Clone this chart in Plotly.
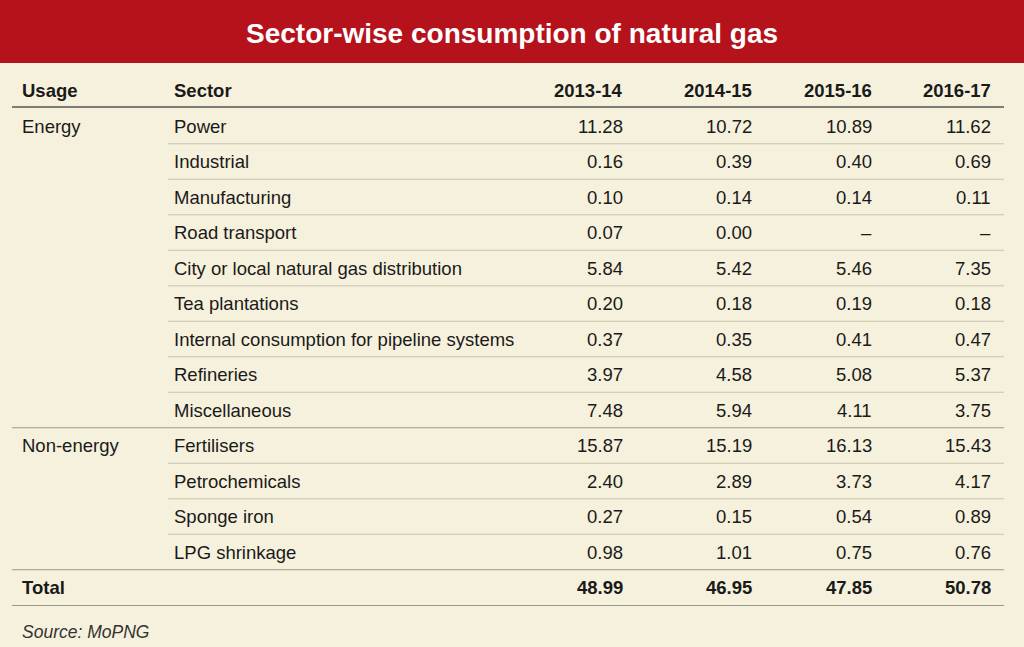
import plotly.graph_objects as go

title = "Sector-wise consumption of natural gas"
years = ["2013-14", "2014-15", "2015-16", "2016-17"]
usage = ["Energy", "", "", "", "", "", "", "", "", "Non-energy", "", "", ""]
sectors = ["Power", "Industrial", "Manufacturing", "Road transport",
           "City or local natural gas distribution", "Tea plantations",
           "Internal consumption for pipeline systems", "Refineries",
           "Miscellaneous", "Fertilisers", "Petrochemicals", "Sponge iron",
           "LPG shrinkage"]
v1314 = ["11.28", "0.16", "0.10", "0.07", "5.84", "0.20", "0.37", "3.97", "7.48", "15.87", "2.40", "0.27", "0.98"]
v1415 = ["10.72", "0.39", "0.14", "0.00", "5.42", "0.18", "0.35", "4.58", "5.94", "15.19", "2.89", "0.15", "1.01"]
v1516 = ["10.89", "0.40", "0.14", "–", "5.46", "0.19", "0.41", "5.08", "4.11", "16.13", "3.73", "0.54", "0.75"]
v1617 = ["11.62", "0.69", "0.11", "–", "7.35", "0.18", "0.47", "5.37", "3.75", "15.43", "4.17", "0.89", "0.76"]
totals = ["48.99", "46.95", "47.85", "50.78"]
source = "Source: MoPNG"

cols = [v1314, v1415, v1516, v1617]
col_x = [625, 754, 874, 993]
x_usage, x_sector = 20, 172
y_head, y0, dy = 90, 126, 35.5
y_total = y0 + dy * len(sectors)

FONT = "Liberation Sans, Arial, sans-serif"
fig = go.Figure()
fig.add_trace(go.Scatter(x=[0, 1024], y=[0, 647], mode="markers", marker=dict(opacity=0), hoverinfo="skip"))

ann = []
def txt(x, y, s, anchor="left", bold=False, italic=False, size=18.5, color="#1a1a1a"):
    if bold:
        s = "<b>" + s + "</b>"
    if italic:
        s = "<i>" + s + "</i>"
    ann.append(dict(x=x, y=y, text=s, xanchor=anchor, yanchor="middle", showarrow=False,
                    font=dict(family=FONT, size=size, color=color)))

txt(x_usage, y_head, "Usage", bold=True)
txt(x_sector, y_head, "Sector", bold=True)
for x, yr in zip(col_x, years):
    txt(x, y_head, yr, "right", bold=True)
for i, s in enumerate(sectors):
    y = y0 + i * dy
    txt(x_usage, y, usage[i])
    txt(x_sector, y, s)
    for x, c in zip(col_x, cols):
        txt(x, y, c[i], "right")
txt(x_usage, y_total, "Total", bold=True)
for x, t in zip(col_x, totals):
    txt(x, y_total, t, "right", bold=True)
txt(x_usage, y_total + 44, source, italic=True, color="#333333", size=17.5)
ann.append(dict(x=512, y=33, text="<b>" + title + "</b>", showarrow=False, xanchor="center", yanchor="middle",
                font=dict(family="Liberation Sans Narrow, Arial Narrow, sans-serif", size=28, color="white")))

shapes = [dict(type="rect", x0=0, x1=1024, y0=0, y1=63, fillcolor="#b5121b", line_width=0, layer="below")]
shapes.append(dict(type="line", x0=12, x1=1004, y0=y_head + 17, y1=y_head + 17, line=dict(color="#555555", width=1.5)))
for i in range(len(sectors)):
    yl = y0 + i * dy + dy / 2
    full = sectors[i] in ("Miscellaneous", "LPG shrinkage")
    shapes.append(dict(type="line", x0=12 if full else 168, x1=1004, y0=yl, y1=yl,
                       line=dict(color="#9a9a8a" if full else "#c8c4ae", width=1)))
shapes.append(dict(type="line", x0=12, x1=1004, y0=y_total + 18, y1=y_total + 18, line=dict(color="#9a9a8a", width=1)))

fig.update_layout(
    width=1024, height=647, margin=dict(l=0, r=0, t=0, b=0),
    paper_bgcolor="#f6f1dc", plot_bgcolor="#f6f1dc", showlegend=False,
    xaxis=dict(range=[0, 1024], visible=False, fixedrange=True),
    yaxis=dict(range=[647, 0], visible=False, fixedrange=True),
    annotations=ann, shapes=shapes,
)
fig.write_html("out.html", config={"displayModeBar": False},
               post_script="document.body.style.margin='0';document.body.style.overflow='hidden';")
